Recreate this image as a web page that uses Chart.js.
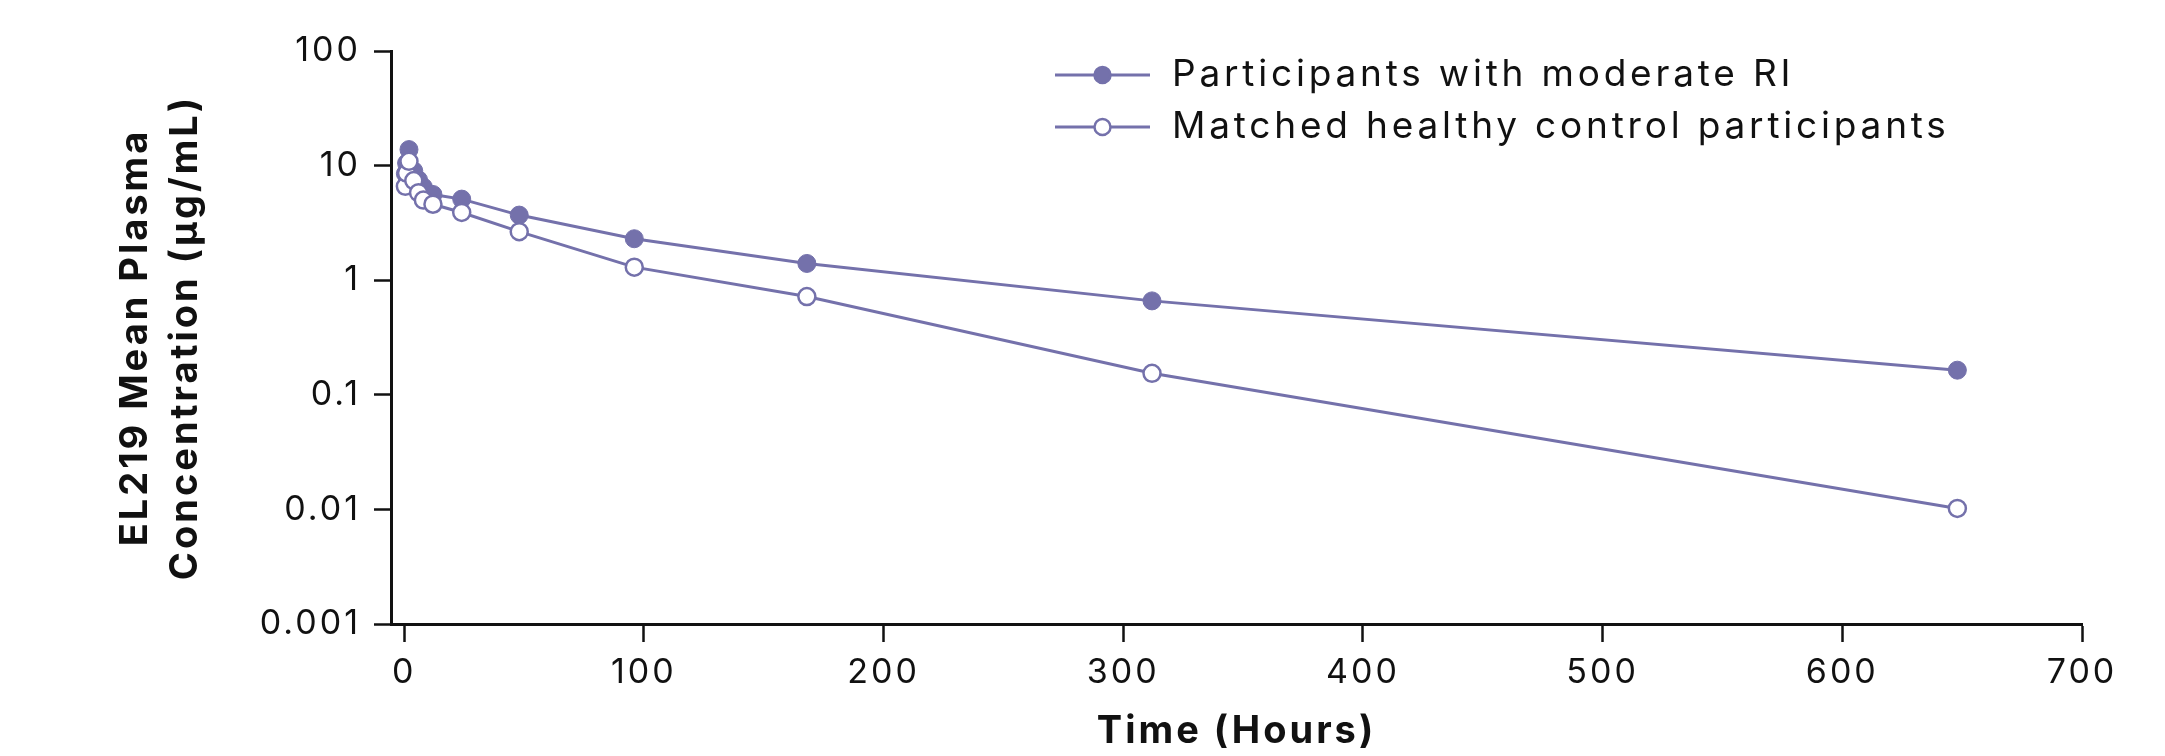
<!DOCTYPE html>
<html>
<head>
<meta charset="utf-8">
<script src="https://cdn.jsdelivr.net/npm/chart.js@4.4.1/dist/chart.umd.min.js"></script>
<style>
  html, body { margin: 0; padding: 0; background: #fff; }
  #wrap { width: 2165px; height: 756px; }
</style>
</head>
<body>
<div id="wrap"><canvas id="pkChart"></canvas></div>
<script>
/* ─── EL219 mean plasma concentration vs time (log y) ─────────────────── */

const TIME_H       = [0.5, 1, 2, 4, 6, 8, 12, 24, 48, 96, 168, 312, 648];
const CONC_RI      = [8.5, 10.5, 13.8, 9.0, 7.5, 6.5, 5.6, 5.1, 3.7, 2.3, 1.4, 0.66, 0.164];
const CONC_HEALTHY = [6.6, 8.6, 10.9, 7.4, 5.8, 5.0, 4.6, 3.9, 2.65, 1.3, 0.72, 0.154, 0.0102];
const SERIES_LABELS = ['Participants with moderate RI', 'Matched healthy control participants'];
const X_TICKS       = [0, 100, 200, 300, 400, 500, 600, 700];
const Y_TICKS       = [0.001, 0.01, 0.1, 1, 10, 100];
const Y_TICK_LABELS = ['0.001', '0.01', '0.1', '1', '10', '100'];

const PURPLE = '#7471ab';
const INK    = '#111111';
const FONT   = 'Inter, "Noto Sans", sans-serif';
const TRACKING = '3px';   // the original face is wide; widen Inter a bit

const toXY = (xs, ys) => xs.map((x, i) => ({ x, y: ys[i] }));

/* ── letter spacing for all chart text (reset on every canvas resize) ──── */
const tracking = {
  id: 'tracking',
  beforeUpdate(chart) { chart.ctx.letterSpacing = TRACKING; },
  beforeDraw(chart)   { chart.ctx.letterSpacing = TRACKING; },
};

/* ── legend: line + marker, drawn inside the plot (top right) ──────────── */
const insideLegend = {
  id: 'insideLegend',
  afterDraw(chart) {
    const ctx = chart.ctx;
    const x0 = 1055, y0 = 75, rowH = 52, lineW = 95;
    ctx.save();
    chart.data.datasets.forEach((ds, i) => {
      const y = y0 + i * rowH;
      ctx.strokeStyle = ds.borderColor;
      ctx.lineWidth = 3;
      ctx.beginPath(); ctx.moveTo(x0, y); ctx.lineTo(x0 + lineW, y); ctx.stroke();
      ctx.beginPath(); ctx.arc(x0 + lineW / 2, y, 8, 0, Math.PI * 2);
      ctx.fillStyle = ds.pointBackgroundColor; ctx.fill();
      ctx.lineWidth = 2.5; ctx.stroke();
      ctx.fillStyle = INK;
      ctx.font = '37px ' + FONT;
      ctx.letterSpacing = '3.8px';
      ctx.textBaseline = 'middle';
      ctx.textAlign = 'left';
      ctx.fillText(ds.label, x0 + 117, y);
    });
    ctx.restore();
  },
};

const axisGrid = { drawOnChartArea: false, drawTicks: true, tickWidth: 2.5, tickColor: INK };

new Chart(document.getElementById('pkChart'), {
  type: 'line',
  data: {
    datasets: [
      {
        label: SERIES_LABELS[0],
        data: toXY(TIME_H, CONC_RI),
        borderColor: PURPLE, backgroundColor: PURPLE,
        pointBackgroundColor: PURPLE, pointBorderColor: PURPLE,
        pointRadius: 9, pointBorderWidth: 1, borderWidth: 3, order: 2,
      },
      {
        label: SERIES_LABELS[1],
        data: toXY(TIME_H, CONC_HEALTHY),
        borderColor: PURPLE, backgroundColor: '#ffffff',
        pointBackgroundColor: '#ffffff', pointBorderColor: PURPLE,
        pointRadius: 8.5, pointBorderWidth: 2.5, borderWidth: 3, order: 1,
      },
    ],
  },
  options: {
    responsive: true, maintainAspectRatio: false, animation: false,
    layout: { padding: { left: 100, top: 51, right: 83, bottom: 0 } },
    plugins: { legend: { display: false }, tooltip: { enabled: false } },
    scales: {
      x: {
        type: 'linear', min: -5.5, max: 700,
        afterBuildTicks: s => { s.ticks = X_TICKS.map(v => ({ value: v })); },
        afterFit: s => { s.height = 132; },
        ticks: { autoSkip: false, color: INK, padding: 10, font: { family: FONT, size: 34 } },
        grid: { ...axisGrid, tickLength: 18 },
        border: { color: INK, width: 3 },
        title: {
          display: true, text: 'Time (Hours)', color: INK,
          font: { family: FONT, size: 38, weight: 'bold' }, padding: { top: 0, bottom: 2 },
        },
      },
      y: {
        type: 'logarithmic', min: 0.001, max: 100,
        afterBuildTicks: s => { s.ticks = Y_TICKS.map(v => ({ value: v })); },
        afterFit: s => { s.width = 291; },
        ticks: {
          autoSkip: false, color: INK, padding: 13, font: { family: FONT, size: 34 },
          callback: (v, i) => Y_TICK_LABELS[i],
        },
        grid: { ...axisGrid, tickLength: 17 },
        border: { color: INK, width: 3 },
        title: {
          display: true, text: ['EL219 Mean Plasma', 'Concentration (µg/mL)'], color: INK,
          font: { family: FONT, size: 38, weight: 'bold', lineHeight: 1.32 }, padding: { top: 10, bottom: 0 },
        },
      },
    },
  },
  plugins: [tracking, insideLegend],
});
</script>
</body>
</html>
